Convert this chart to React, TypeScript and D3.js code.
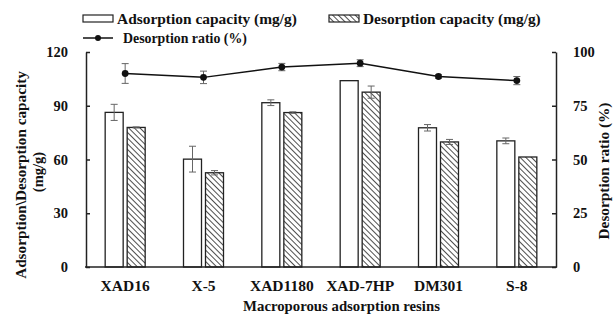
import React, { useEffect, useRef } from 'react';
import * as d3 from 'd3';

const resins = ['XAD16', 'X-5', 'XAD1180', 'XAD-7HP', 'DM301', 'S-8'];
const adsorption = [86.3, 60.2, 91.7, 104, 77.7, 70.4];
const adsorptionErr = [4.5, 7.2, 1.6, 0, 1.8, 1.6];
const desorption = [77.9, 52.6, 86.2, 97.6, 69.8, 61.4];
const desorptionErr = [0.3, 1.2, 0.4, 3.4, 1.4, 0];
const ratio = [90.0, 88.2, 93.0, 94.8, 88.6, 86.7];
const ratioErr = [4.6, 2.9, 1.7, 1.6, 0.8, 1.9];
const leftTicks = [0, 30, 60, 90, 120];
const rightTicks = [0, 25, 50, 75, 100];

const FONT = '"Liberation Serif", "Times New Roman", serif';

const App: React.FC = () => {
  const ref = useRef<SVGSVGElement | null>(null);

  useEffect(() => {
    if (!ref.current) return;
    const width = 614;
    const height = 315;
    const m = { left: 86, right: 556, top: 52, bottom: 267 };

    const svg = d3.select(ref.current);
    svg.selectAll('*').remove();
    svg.attr('width', width).attr('height', height);

    const defs = svg.append('defs');
    const pat = defs
      .append('pattern')
      .attr('id', 'hatch')
      .attr('patternUnits', 'userSpaceOnUse')
      .attr('width', 4)
      .attr('height', 4)
      .attr('patternTransform', 'rotate(-45)');
    pat.append('rect').attr('width', 4).attr('height', 4).attr('fill', '#fff');
    pat.append('line').attr('x1', 0).attr('y1', 0).attr('x2', 0).attr('y2', 4)
      .attr('stroke', '#222').attr('stroke-width', 1.6);

    const x = d3.scaleBand<string>().domain(resins).range([m.left, m.right]);
    const yL = d3.scaleLinear().domain([0, 120]).range([m.bottom, m.top]);
    const yR = d3.scaleLinear().domain([0, 100]).range([m.bottom, m.top]);

    const barW = 18;
    const gap = 4;
    const g = svg.append('g');

    const err = (cx: number, y0: number, y1: number) => {
      if (Math.abs(y1 - y0) < 0.5) return;
      g.append('line').attr('x1', cx).attr('x2', cx).attr('y1', y0).attr('y2', y1)
        .attr('stroke', '#666').attr('stroke-width', 1);
      [y0, y1].forEach((yy) =>
        g.append('line').attr('x1', cx - 3.5).attr('x2', cx + 3.5).attr('y1', yy).attr('y2', yy)
          .attr('stroke', '#666').attr('stroke-width', 1)
      );
    };

    resins.forEach((r, i) => {
      const c = (x(r) as number) + x.bandwidth() / 2;
      const x1 = c - gap / 2 - barW;
      const x2 = c + gap / 2;
      g.append('rect').attr('x', x1).attr('y', yL(adsorption[i])).attr('width', barW)
        .attr('height', m.bottom - yL(adsorption[i])).attr('fill', '#fff')
        .attr('stroke', '#222').attr('stroke-width', 1.3);
      g.append('rect').attr('x', x2).attr('y', yL(desorption[i])).attr('width', barW)
        .attr('height', m.bottom - yL(desorption[i])).attr('fill', 'url(#hatch)')
        .attr('stroke', '#222').attr('stroke-width', 1.3);
      err(x1 + barW / 2, yL(adsorption[i] + adsorptionErr[i]), yL(adsorption[i] - adsorptionErr[i]));
      err(x2 + barW / 2, yL(desorption[i] + desorptionErr[i]), yL(desorption[i] - desorptionErr[i]));
    });

    // ratio line
    const pts = resins.map((r, i) => [(x(r) as number) + x.bandwidth() / 2, yR(ratio[i])] as [number, number]);
    resins.forEach((r, i) => {
      err(pts[i][0], yR(ratio[i] + ratioErr[i]), yR(ratio[i] - ratioErr[i]));
    });
    g.append('path').attr('d', d3.line()(pts)).attr('fill', 'none')
      .attr('stroke', '#111').attr('stroke-width', 1.5);
    g.selectAll('circle.pt').data(pts).enter().append('circle')
      .attr('cx', (d) => d[0]).attr('cy', (d) => d[1]).attr('r', 3.4).attr('fill', '#111');

    // axes
    const axisStyle = (sel: d3.Selection<SVGGElement, unknown, null, undefined>, fs = 14.5) => {
      sel.selectAll('path.domain').attr('stroke', '#222').attr('stroke-width', 1.5);
      sel.selectAll('.tick line').attr('stroke', '#222').attr('stroke-width', 1.5);
      sel.selectAll('.tick text').attr('font-family', FONT).attr('font-weight', 'bold')
        .attr('font-size', fs).attr('fill', '#111');
    };

    const gl = svg.append('g').attr('transform', `translate(${m.left},0)`)
      .call(d3.axisLeft(yL).tickValues(leftTicks).tickSizeInner(-4).tickSizeOuter(0).tickPadding(18));
    axisStyle(gl);
    const gr = svg.append('g').attr('transform', `translate(${m.right},0)`)
      .call(d3.axisRight(yR).tickValues(rightTicks).tickSizeInner(-4).tickSizeOuter(0).tickPadding(17));
    axisStyle(gr);
    gr.selectAll('.tick text').attr('text-anchor', 'start');

    const gx = svg.append('g').attr('transform', `translate(0,${m.bottom})`)
      .call(d3.axisBottom(x).tickSize(0).tickPadding(13));
    axisStyle(gx, 15.5);
    gx.select('path.domain').attr('d', `M${m.left - 1},0H${m.right + 1}`);

    const txt = (t: string, tx: number, ty: number, rot = 0, anchor = 'middle', len = 0) => {
      const el = svg.append('text').text(t)
        .attr('text-anchor', anchor).attr('dominant-baseline', 'central')
        .attr('font-family', FONT).attr('font-weight', 'bold').attr('font-size', 14.5).attr('fill', '#111');
      let k = 1;
      if (len) {
        const w = (el.node() as SVGTextElement).getComputedTextLength();
        if (w > 0) k = len / w;
      }
      el.attr('transform', `translate(${tx},${ty}) rotate(${rot}) scale(${k},1)`);
      return el;
    };

    txt('Macroporous adsorption resins', 341.5, 306, 0, 'middle', 197);
    txt('Adsorption\\Desorption capacity', 21, 175, -90, 'middle', 208);
    txt('(mg/g)', 38, 172, -90);
    txt('Desorption ratio (%)', 604, 171, -90, 'middle', 137);

    // legend
    svg.append('rect').attr('x', 83).attr('y', 15).attr('width', 30).attr('height', 7)
      .attr('fill', '#fff').attr('stroke', '#222').attr('stroke-width', 1.2);
    txt('Adsorption capacity (mg/g)', 117, 19, 0, 'start', 180);
    svg.append('rect').attr('x', 329).attr('y', 15).attr('width', 30).attr('height', 7)
      .attr('fill', 'url(#hatch)').attr('stroke', '#222').attr('stroke-width', 1.2);
    txt('Desorption capacity (mg/g)', 363, 19, 0, 'start', 178);
    svg.append('line').attr('x1', 83).attr('x2', 113).attr('y1', 38).attr('y2', 38)
      .attr('stroke', '#111').attr('stroke-width', 1.5);
    svg.append('circle').attr('cx', 98).attr('cy', 38).attr('r', 3).attr('fill', '#111');
    txt('Desorption ratio (%)', 123, 38, 0, 'start', 124);
  }, []);

  return <svg ref={ref} style={{ position: 'absolute', left: 0, top: 0 }}></svg>;
};

export default App;
